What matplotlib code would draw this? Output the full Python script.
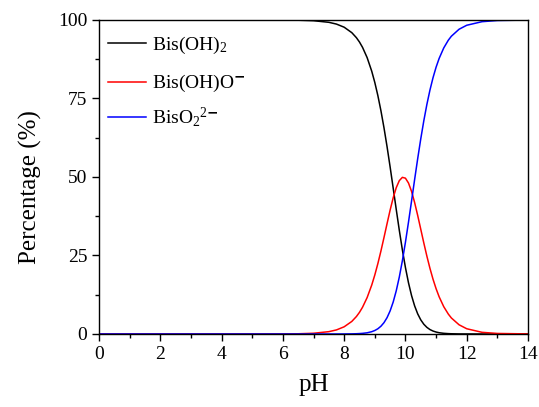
import matplotlib
matplotlib.use('Agg')
import matplotlib.pyplot as plt
from matplotlib.lines import Line2D
from matplotlib.ticker import MultipleLocator

plt.rcParams['font.family'] = ['Liberation Serif', 'DejaVu Serif']
plt.rcParams['mathtext.fontset'] = 'custom'
plt.rcParams['mathtext.rm'] = 'Liberation Serif'
plt.rcParams['mathtext.it'] = 'Liberation Serif:italic'

# species distribution, % of total
ph = [0, 2, 4, 6, 6.5, 7, 7.5, 7.75, 8, 8.25, 8.4, 8.5, 8.6, 8.75, 8.9,
      9, 9.1, 9.2, 9.3, 9.4, 9.5, 9.6, 9.7, 9.8, 9.9, 10, 10.1, 10.2, 10.3,
      10.4, 10.5, 10.6, 10.7, 10.8, 10.9, 11, 11.1, 11.25, 11.4, 11.5,
      11.75, 12, 12.5, 13, 14]
bis_oh2 = [100, 100, 100, 99.98, 99.93, 99.77, 99.26, 98.69, 97.70, 95.96,
           94.36, 92.98, 91.28, 88.01, 83.69, 80.11, 75.93, 71.11, 65.67, 59.67,
           53.21, 46.47, 39.66, 33.02, 26.79, 21.17, 16.29, 12.22, 8.95, 6.41,
           4.50, 3.10, 2.11, 1.41, 0.94, 0.62, 0.40, 0.21, 0.11, 0.07,
           0.02, 0.01, 0, 0, 0]
bis_oho = [0, 0, 0, 0.02, 0.07, 0.23, 0.74, 1.30, 2.29, 4.00,
           5.56, 6.89, 8.52, 11.60, 15.58, 18.78, 22.41, 26.42, 30.72, 35.13,
           39.44, 43.37, 46.59, 48.84, 49.88, 49.62, 48.07, 45.40, 41.86, 37.75,
           33.37, 28.97, 24.78, 20.91, 17.45, 14.43, 11.84, 8.70, 6.33, 5.09,
           2.93, 1.67, 0.53, 0.17, 0.02]
bis_o2 = [0, 0, 0, 0, 0, 0, 0, 0, 0.01, 0.04,
          0.08, 0.13, 0.20, 0.38, 0.73, 1.11, 1.66, 2.47, 3.61, 5.20,
          7.35, 10.17, 13.75, 18.14, 23.33, 29.22, 35.64, 42.37, 49.19, 55.84,
          62.13, 67.92, 73.12, 77.68, 81.61, 84.96, 87.76, 91.09, 93.57, 94.84,
          97.05, 98.32, 99.46, 99.83, 99.98]

labels = [r'Bis(OH)$_2$', r'Bis(OH)O$^{\mathbf{-}}$', r'BisO$_2$$^{2\mathbf{-}}$']
colors = ['black', 'red', 'blue']

fig = plt.figure(figsize=(5.39, 4.07), dpi=100)
ax = fig.add_axes([0.1837, 0.1794, 0.7959, 0.7715])

for ys, c in zip([bis_oh2, bis_oho, bis_o2], colors):
    ax.plot(ph, ys, color=c, lw=1.1)

ax.set_xlim(0, 14)
ax.set_ylim(0, 100)
ax.xaxis.set_major_locator(MultipleLocator(2))
ax.xaxis.set_minor_locator(MultipleLocator(1))
ax.yaxis.set_major_locator(MultipleLocator(25))
ax.yaxis.set_minor_locator(MultipleLocator(12.5))
ax.tick_params(which='major', direction='out', length=5, width=1, labelsize=14)
ax.tick_params(which='minor', direction='out', length=3, width=1)
for s in ax.spines.values():
    s.set_linewidth(1.0)

ax.set_xlabel('pH', fontsize=18, labelpad=8)
ax.set_ylabel('Percentage (%)', fontsize=18)
ax.yaxis.set_label_coords(-0.133, 0.468)

# legend, rows placed by hand so the superscript doesn't push the last one down
for lab, c, yrow in zip(labels, colors, [0.926, 0.803, 0.692]):
    ax.add_line(Line2D([0.021, 0.110], [yrow, yrow], color=c, lw=1.1,
                       transform=ax.transAxes))
    ax.text(0.1235, yrow - 0.020, lab, fontsize=14, va='baseline',
            transform=ax.transAxes)

fig.savefig('out.png', dpi=100)
